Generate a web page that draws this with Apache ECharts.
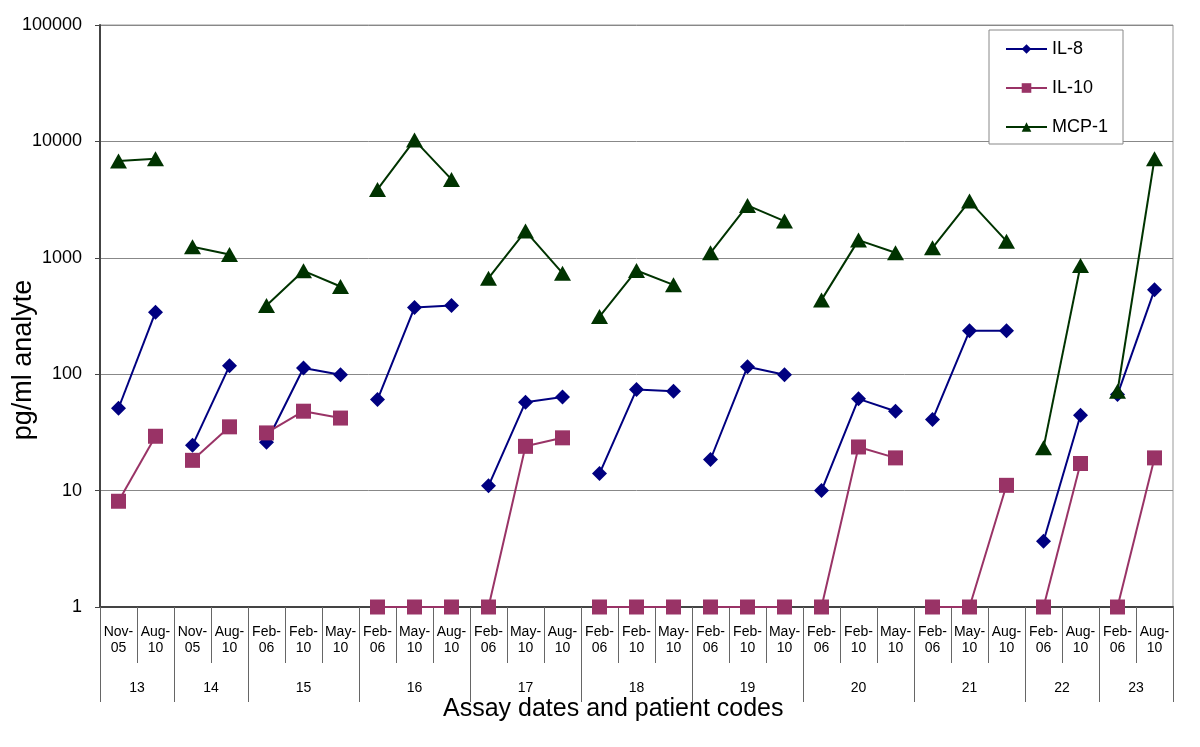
<!DOCTYPE html>
<html>
<head>
<meta charset="utf-8">
<title>Assay dates and patient codes</title>
<script src="https://cdn.jsdelivr.net/npm/echarts@6/dist/echarts.min.js"></script>
<style>
  html, body { margin: 0; padding: 0; background: #fff; }
  #chart { width: 1200px; height: 747px; }
</style>
</head>
<body>
<div id="chart"></div>
<script>
// categories: assay date per column, grouped by patient
const dateLabels = ['Nov-05', 'Aug-10', 'Nov-05', 'Aug-10', 'Feb-06', 'Feb-10', 'May-10',
  'Feb-06', 'May-10', 'Aug-10', 'Feb-06', 'May-10', 'Aug-10', 'Feb-06', 'Feb-10', 'May-10',
  'Feb-06', 'Feb-10', 'May-10', 'Feb-06', 'Feb-10', 'May-10', 'Feb-06', 'May-10', 'Aug-10',
  'Feb-06', 'Aug-10', 'Feb-06', 'Aug-10']
const patientCodes = ['13', '14', '15', '16', '17', '18', '19', '20', '21', '22', '23']
const groupSizes = [2, 2, 3, 3, 3, 3, 3, 3, 3, 2, 2]

// pg/ml values
const il8 = [51, 341, 24.5, 118, 26, 113, 99, 60.6, 374, 389, 11, 57.5, 63.8, 14, 73.8, 71.4,
  18.5, 116, 99, 10, 61.4, 48, 40.8, 236, 236, 3.67, 44.4, 66.8, 531]
const il10 = [8.1, 29.3, 18.2, 35.3, 31.3, 48.1, 42, 1, 1, 1, 1, 24, 28.4, 1, 1, 1,
  1, 1, 1, 1, 23.7, 19.1, 1, 1, 11.1, 1, 17.1, 1, 19.1]
const mcp1 = [6780, 7100, 1243, 1068, 389, 773, 567, 3866, 10260, 4713, 668, 1695, 738, 313, 778, 586,
  1104, 2818, 2066, 435, 1419, 1104, 1219, 3070, 1390, 23.3, 859, 71.4, 7096]

const yTicks = [1, 10, 100, 1000, 10000, 100000]

const FONT = "'Liberation Sans', Arial, sans-serif"

// group boundaries and centres on a 0..29 scale
const groupEdges = [0]
const groupCenters = []
groupSizes.forEach(function (n) {
  const start = groupEdges[groupEdges.length - 1]
  groupCenters.push(start + n / 2)
  groupEdges.push(start + n)
})

const analytes = [
  { name: 'IL-8', values: il8, color: '#000080', symbol: 'diamond', size: 15 },
  { name: 'IL-10', values: il10, color: '#993366', symbol: 'rect', size: 15 },
  { name: 'MCP-1', values: mcp1, color: '#003300', symbol: 'triangle', size: [17, 15] }
]

// one series per patient so the lines break between patients
const series = []
analytes.forEach(function (a) {
  groupSizes.forEach(function (n, g) {
    const start = groupEdges[g]
    const data = []
    for (let i = start; i < start + n; i++) {
      data.push([i, a.values[i]])
    }
    series.push({
      name: a.name,
      type: 'line',
      xAxisIndex: 0,
      data: data,
      symbol: a.symbol,
      symbolSize: a.size,
      showAllSymbol: true,
      color: a.color,
      lineStyle: { color: a.color, width: 2 },
      itemStyle: { color: a.color },
      emphasis: { disabled: true },
      animation: false
    })
  })
})

const chart = echarts.init(document.getElementById('chart'))
chart.setOption({
  backgroundColor: '#fff',
  animation: false,
  title: {
    text: 'Assay dates and patient codes',
    left: 443,
    top: 697,
    padding: 0,
    textStyle: { fontFamily: FONT, fontSize: 25, fontWeight: 'normal', color: '#000' }
  },
  graphic: [{
    type: 'text',
    x: 24,
    y: 360,
    rotation: Math.PI / 2,
    style: {
      text: 'pg/ml analyte',
      fontFamily: FONT,
      fontSize: 27,
      fill: '#000',
      align: 'center',
      verticalAlign: 'middle'
    }
  }],
  legend: {
    data: ['IL-8', 'IL-10', 'MCP-1'],
    orient: 'vertical',
    left: 989,
    top: 30,
    padding: [10, 15, 8, 16],
    itemWidth: 41,
    itemHeight: 12,
    itemGap: 21,
    backgroundColor: '#fff',
    borderColor: '#888',
    borderWidth: 1,
    textStyle: { fontFamily: FONT, fontSize: 18, color: '#000' }
  },
  grid: {
    left: 100,
    right: 27,
    top: 25,
    bottom: 140,
    show: true,
    borderColor: '#999',
    borderWidth: 1
  },
  xAxis: [
    {
      type: 'category',
      position: 'bottom',
      data: dateLabels,
      boundaryGap: true,
      axisLine: { lineStyle: { color: '#444', width: 2 } },
      axisTick: { show: true, interval: 0, length: 56, lineStyle: { color: '#666', width: 1 } },
      axisLabel: {
        interval: 0,
        margin: 17,
        fontFamily: FONT,
        fontSize: 14,
        lineHeight: 16,
        color: '#000',
        formatter: function (v) { return v.replace('-', '-\n') }
      },
      splitLine: { show: false }
    },
    {
      type: 'value',
      position: 'bottom',
      min: 0,
      max: dateLabels.length,
      axisLine: { show: false },
      axisTick: { show: true, customValues: groupEdges, length: 95, lineStyle: { color: '#666', width: 1 } },
      axisLabel: {
        customValues: groupCenters,
        margin: 74,
        fontFamily: FONT,
        fontSize: 14,
        color: '#000',
        formatter: function (v) {
          const idx = groupCenters.indexOf(v)
          return idx >= 0 ? patientCodes[idx] : ''
        }
      },
      splitLine: { show: false }
    }
  ],
  yAxis: {
    type: 'log',
    logBase: 10,
    min: yTicks[0],
    max: yTicks[yTicks.length - 1],
    axisLine: { show: true, lineStyle: { color: '#444', width: 2 } },
    axisTick: { show: true, length: 5, lineStyle: { color: '#444' } },
    axisLabel: {
      margin: 18,
      fontFamily: FONT,
      fontSize: 18,
      color: '#000',
      formatter: function (v) { return String(Math.round(v)) }
    },
    splitLine: { show: true, lineStyle: { color: '#888', width: 1 } },
    minorTick: { show: false }
  },
  series: series
})
</script>
</body>
</html>
